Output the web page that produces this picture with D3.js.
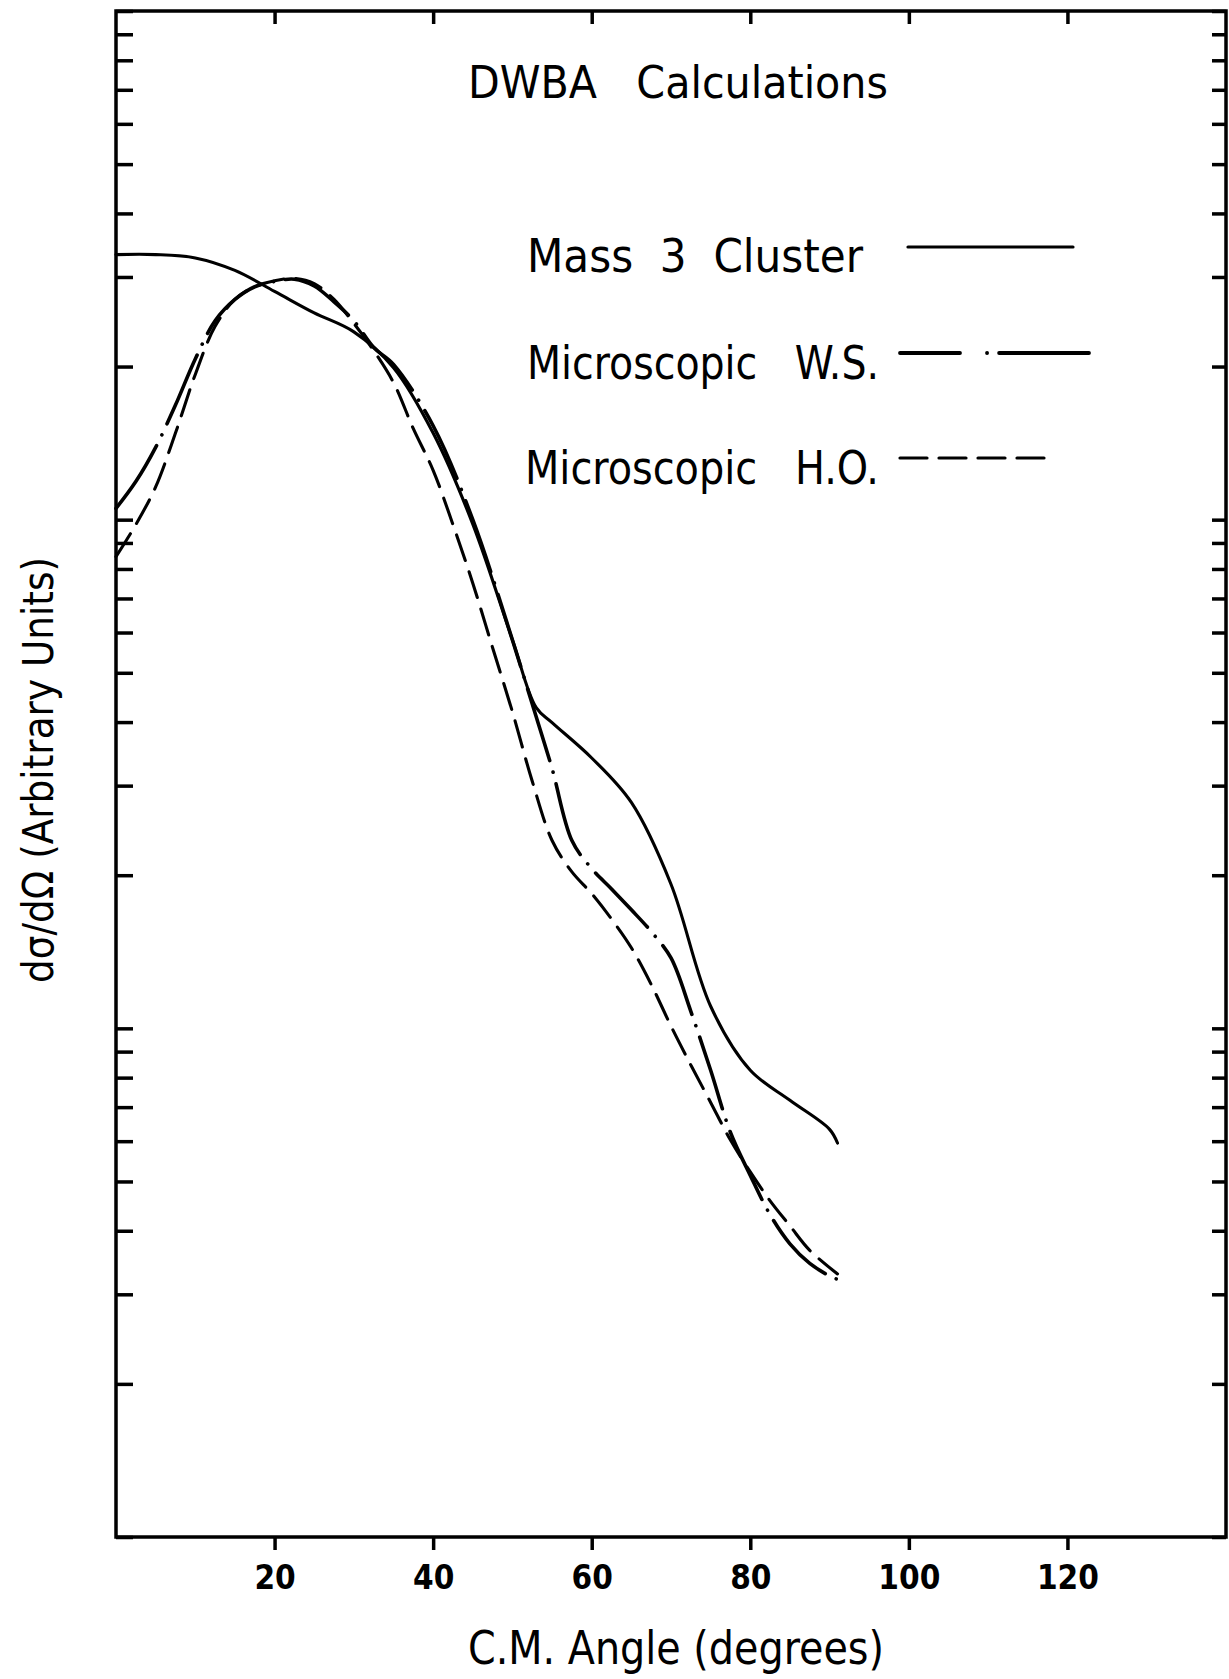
<!DOCTYPE html>
<html>
<head>
<meta charset="utf-8">
<script src="https://cdn.jsdelivr.net/npm/d3@7"></script>
<style>
  body { margin: 0; background: white; }
  text { font-family: "DejaVu Sans Condensed", "DejaVu Sans", sans-serif; fill: black; white-space: pre; }
</style>
</head>
<body>
<div id="chart"></div>
<script>
// values: angle in degrees, cross section in arbitrary units
const mass3Angles = [0, 5, 10, 15, 20, 25, 30, 35, 40, 45, 50, 53, 55, 60, 65, 70, 75, 80, 85, 90, 91];
const mass3Values = [33.2, 33.2, 32.7, 30.9, 28.1, 25.5, 23.4, 19.9, 14.8, 9.8, 5.8, 4.27, 3.99, 3.40, 2.78, 1.92, 1.105, 0.827, 0.722, 0.633, 0.595];

const wsAngles = [0, 2.5, 5, 7.5, 10, 12.5, 15, 17.5, 20, 22.5, 25, 27.5, 30, 32.5, 35, 40, 45, 50,
  52.5, 55, 57.5, 60, 62.5, 65, 67.5, 70, 72.5, 75, 77.5, 80, 82.5, 85, 87.5, 90, 91];
const wsValues = [10.52, 11.88, 13.87, 16.8, 20.7, 24.6, 27.1, 28.7, 29.4, 29.7, 28.8, 26.8, 24.6, 21.8, 20.2, 15.3, 10.0, 5.8,
  4.34, 3.24, 2.34, 2.06, 1.88, 1.71, 1.55, 1.375, 1.08, 0.827, 0.624, 0.514, 0.430, 0.377, 0.345, 0.326, 0.321];

const hoAngles = [0, 2.5, 5, 7.5, 10, 12.5, 15, 17.5, 20, 22.5, 25, 27.5, 30, 32.5, 35, 37.5, 40, 42.5, 45, 47.5, 50,
  52.5, 55, 57.5, 60, 62.5, 65, 67.5, 70, 72.5, 75, 77.5, 80, 82.5, 85, 87.5, 91];
const hoValues = [8.46, 9.78, 11.6, 14.8, 19.3, 24.0, 27.1, 28.7, 29.5, 29.8, 29.1, 27.1, 24.3, 21.5, 18.6, 15.1, 12.5, 9.78, 7.50, 5.60, 4.19,
  3.06, 2.34, 2.03, 1.84, 1.64, 1.44, 1.22, 1.01, 0.847, 0.715, 0.603, 0.522, 0.458, 0.409, 0.366, 0.329];

const xTickValues = [20, 40, 60, 80, 100, 120];
const seriesNames = ["Mass  3  Cluster", "Microscopic   W.S.", "Microscopic   H.O."];

const width = 1229, height = 1679;
const plotLeft = 116, plotRight = 1226, plotTop = 11, plotBottom = 1537;

const svg = d3.select("#chart").append("svg")
    .attr("width", width)
    .attr("height", height)
    .style("background-color", "white");

const x = d3.scaleLinear().domain([0, 140]).range([plotLeft, plotRight]);
const y = d3.scaleLog().domain([0.1, 100]).range([plotBottom, plotTop]);

// frame
svg.append("rect")
    .attr("x", plotLeft).attr("y", plotTop)
    .attr("width", plotRight - plotLeft).attr("height", plotBottom - plotTop)
    .attr("fill", "none").attr("stroke", "black").attr("stroke-width", 3.5);

// axes
const bottomAxis = svg.append("g")
    .attr("transform", "translate(0," + plotBottom + ")")
    .call(d3.axisBottom(x).tickValues(xTickValues).tickSize(13).tickSizeOuter(0).tickPadding(16));
bottomAxis.selectAll("text")
    .attr("font-size", 33)
    .style("font-family", "\"DejaVu Sans Condensed\", \"DejaVu Sans\", sans-serif")
    .style("font-weight", "bold");

const topAxis = svg.append("g")
    .attr("transform", "translate(0," + plotTop + ")")
    .call(d3.axisTop(x).tickValues(xTickValues).tickSize(-13).tickSizeOuter(0).tickFormat(""));

const leftAxis = svg.append("g")
    .attr("transform", "translate(" + plotLeft + ",0)")
    .call(d3.axisLeft(y).tickSize(-17).tickSizeOuter(0).tickFormat(""));

const rightAxis = svg.append("g")
    .attr("transform", "translate(" + plotRight + ",0)")
    .call(d3.axisRight(y).tickSize(-14).tickSizeOuter(0).tickFormat(""));

[bottomAxis, topAxis, leftAxis, rightAxis].forEach(function (g) {
    g.select(".domain").remove();
    g.selectAll(".tick line").attr("stroke", "black").attr("stroke-width", 3.5);
});

// curves
const line = d3.line()
    .x(function (d) { return x(d[0]); })
    .y(function (d) { return y(d[1]); })
    .curve(d3.curveCatmullRom.alpha(0.5));

const styles = [
    { dash: null },
    { dash: "75,12,0.1,12" },
    { dash: "27,12" }
];

const series = [
    d3.zip(mass3Angles, mass3Values),
    d3.zip(wsAngles, wsValues),
    d3.zip(hoAngles, hoValues)
];

series.forEach(function (pts, i) {
    svg.append("path")
        .datum(pts)
        .attr("d", line)
        .attr("fill", "none")
        .attr("stroke", "black")
        .attr("stroke-width", i == 1 ? 3.6 : 3.1)
        .attr("stroke-linecap", "round")
        .attr("stroke-dasharray", styles[i].dash);
});

// title and legend
svg.append("text")
    .attr("x", 468).attr("y", 98)
    .attr("font-size", 45)
    .attr("textLength", 420).attr("lengthAdjust", "spacingAndGlyphs")
    .text("DWBA   Calculations");

const legendRows = [
    { tx: 527, ty: 272, len: 336, x1: 908, x2: 1073, ly: 247, dash: null },
    { tx: 527, ty: 379, len: 352, x1: 900, x2: 1089, ly: 353, dash: "60,27,0.1,12,95" },
    { tx: 525, ty: 484, len: 354, x1: 900, x2: 1048, ly: 458, dash: "27,12" }
];

legendRows.forEach(function (r, i) {
    svg.append("text")
        .attr("x", r.tx).attr("y", r.ty)
        .attr("font-size", 46)
        .attr("textLength", r.len).attr("lengthAdjust", "spacingAndGlyphs")
        .text(seriesNames[i]);
    svg.append("line")
        .attr("x1", r.x1).attr("x2", r.x2)
        .attr("y1", r.ly).attr("y2", r.ly)
        .attr("stroke", "black")
        .attr("stroke-width", i == 1 ? 3.8 : 3.2)
        .attr("stroke-linecap", "round")
        .attr("stroke-dasharray", r.dash);
});

// axis titles
svg.append("text")
    .attr("x", 676).attr("y", 1664)
    .attr("text-anchor", "middle")
    .attr("font-size", 46)
    .attr("textLength", 416).attr("lengthAdjust", "spacingAndGlyphs")
    .text("C.M. Angle (degrees)");

svg.append("text")
    .attr("transform", "translate(53,770) rotate(-90)")
    .attr("text-anchor", "middle")
    .attr("font-size", 42)
    .attr("textLength", 426).attr("lengthAdjust", "spacingAndGlyphs")
    .text("dσ/dΩ (Arbitrary Units)");
</script>
</body>
</html>
